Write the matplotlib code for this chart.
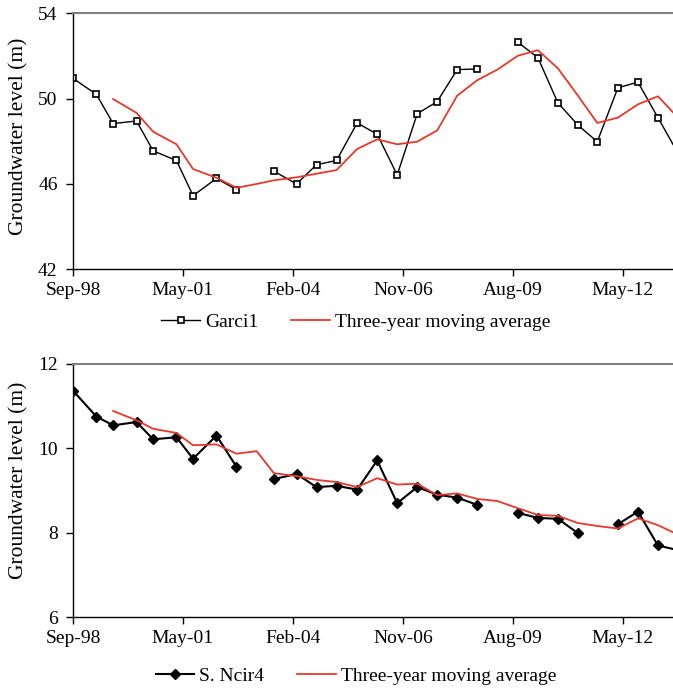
import numpy as np
import pandas as pd
import matplotlib
matplotlib.use('Agg')
import matplotlib.pyplot as plt

plt.rcParams['font.family'] = ['Liberation Serif', 'DejaVu Serif']

# 采样日期（约半年一次）
dates = ['1998-09-01', '1999-04-01', '1999-09-01', '2000-04-01', '2000-08-30',
         '2001-03-30', '2001-08-28', '2002-03-29', '2002-09-27', '2003-03-30',
         '2003-09-02', '2004-03-26', '2004-09-24', '2005-03-25', '2005-09-29',
         '2006-03-30', '2006-09-28', '2007-03-29', '2007-09-27', '2008-03-27',
         '2008-09-25', '2009-03-27', '2009-09-30', '2010-03-31', '2010-09-29',
         '2011-03-30', '2011-09-22', '2012-03-28', '2012-09-26', '2013-03-27',
         '2013-09-21']

nan = np.nan
# Garci1 观测值及三年滑动平均
garci1 = [50.95, 50.2, 48.83, 48.95, 47.55, 47.1, 45.45, 46.26, 45.73, nan,
          46.6, 46.0, 46.9, 47.1, 48.86, 48.33, 46.42, 49.29, 49.86, 51.36,
          51.39, nan, 52.64, 51.92, 49.8, 48.76, 47.98, 50.51, 50.77, 49.11,
          47.48]
garci1_ma = [nan, nan, 49.98, 49.33, 48.45, 47.86, 46.7, 46.29, 45.82, 46.0,
             46.17, 46.31, 46.48, 46.65, 47.64, 48.09, 47.86, 47.98, 48.51, 50.14,
             50.86, 51.36, 52.01, 52.27, 51.42, 50.14, 48.86, 49.11, 49.73, 50.11,
             49.13]

# S. Ncir4 观测值及三年滑动平均
ncir4 = [11.36, 10.75, 10.54, 10.62, 10.21, 10.26, 9.75, 10.30, 9.56, nan,
         9.27, 9.39, 9.08, 9.11, 9.02, 9.71, 8.70, 9.08, 8.90, 8.83,
         8.66, nan, 8.47, 8.35, 8.33, 7.99, nan, 8.20, 8.50, 7.70,
         7.59]
ncir4_ma = [nan, nan, 10.88, 10.66, 10.46, 10.36, 10.07, 10.09, 9.87, 9.93,
            9.41, 9.34, 9.25, 9.20, 9.08, 9.29, 9.14, 9.16, 8.89, 8.93,
            8.80, 8.75, 8.58, 8.42, 8.40, 8.23, 8.16, 8.10, 8.34, 8.18,
            7.96]

tick_labels = ['Sep-98', 'May-01', 'Feb-04', 'Nov-06', 'Aug-09', 'May-12']

x = pd.to_datetime(dates)
start = pd.Timestamp('1998-09-01')
ticks = [start + pd.Timedelta(days=1000 * i) for i in range(len(tick_labels))]
xend = start + pd.Timedelta(days=5458)

red = '#e8382b'

def style_axes(ax, ylim, yticks):
    ax.set_xlim(start, xend)
    ax.set_ylim(*ylim)
    ax.set_yticks(yticks)
    ax.set_xticks(ticks)
    ax.set_xticklabels(tick_labels)
    ax.tick_params(axis='both', direction='out', length=5, width=1,
                   labelsize=14, colors='black')
    ax.tick_params(axis='y', pad=6)
    ax.tick_params(axis='x', pad=4)
    ax.spines['right'].set_visible(False)
    ax.spines['top'].set_color('#808080')
    ax.spines['top'].set_linewidth(1.5)
    for s in ['left', 'bottom']:
        ax.spines[s].set_linewidth(1.0)
        ax.spines[s].set_color('black')

fig = plt.figure(figsize=(6.73, 6.88), dpi=100)

# 上图
ax1 = fig.add_axes([0.1085, 0.6086, 0.8915, 0.3721])
ax1.plot(x, garci1, color='black', lw=1.0, marker='s', markersize=5,
         markerfacecolor='white', markeredgecolor='black', markeredgewidth=1.2,
         label='Garci1')
ax1.plot(x, garci1_ma, color=red, lw=1.3, label='Three-year moving average')
style_axes(ax1, (42, 54), [42, 46, 50, 54])
ax1.set_ylabel('Groundwater level (m)', fontsize=15.5)
ax1.yaxis.set_label_coords(-0.075, 0.52)
ax1.legend(loc='center', bbox_to_anchor=(356 / 673, 1 - 322 / 688),
           bbox_transform=fig.transFigure, ncol=2, frameon=False, fontsize=14,
           handlelength=2.0, handletextpad=0.25, columnspacing=1.7)

# 下图
ax2 = fig.add_axes([0.1085, 0.1028, 0.8915, 0.3686])
ax2.plot(x, ncir4, color='black', lw=1.5, marker='D', markersize=4.8,
         markerfacecolor='black', markeredgecolor='black', label='S. Ncir4')
ax2.plot(x, ncir4_ma, color=red, lw=1.3, label='Three-year moving average')
style_axes(ax2, (6, 12), [6, 8, 10, 12])
ax2.set_ylabel('Groundwater level (m)', fontsize=15.5)
ax2.yaxis.set_label_coords(-0.075, 0.54)
ax2.legend(loc='center', bbox_to_anchor=(356 / 673, 1 - 676 / 688),
           bbox_transform=fig.transFigure, ncol=2, frameon=False, fontsize=14,
           handlelength=2.0, handletextpad=0.25, columnspacing=1.7)

fig.savefig('out.png', dpi=100)
